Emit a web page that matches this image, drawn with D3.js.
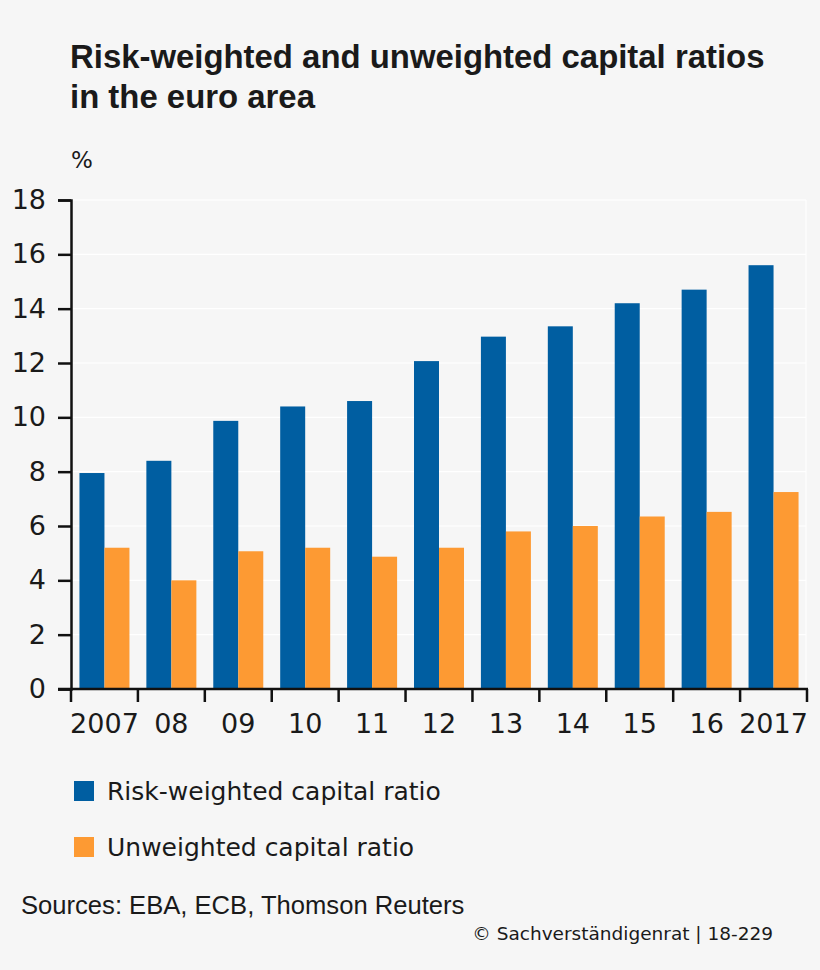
<!DOCTYPE html>
<html>
<head>
<meta charset="utf-8">
<script src="https://cdn.jsdelivr.net/npm/d3@7"></script>
<style>
body { margin: 0; background: #f6f6f6; }
text { font-family: "Liberation Sans", sans-serif; fill: #1a1a1a; }
.tick text { font-family: "DejaVu Sans", sans-serif; }
</style>
</head>
<body>
<svg id="chart" width="820" height="970"></svg>
<script>
var years = ["2007", "08", "09", "10", "11", "12", "13", "14", "15", "16", "2017"]
var riskWeighted = [7.95, 8.4, 9.87, 10.4, 10.6, 12.07, 12.97, 13.35, 14.2, 14.7, 15.6]
var unweighted = [5.2, 4.0, 5.07, 5.2, 4.87, 5.2, 5.8, 6.0, 6.35, 6.52, 7.25]
var yTicks = [0, 2, 4, 6, 8, 10, 12, 14, 16, 18]
var titleLines = ["Risk-weighted and unweighted capital ratios", "in the euro area"]

var blue = "#005ea1"
var orange = "#fd9a33"

var svg = d3.select("#chart")

var xScale = d3.scaleBand()
    .domain(years)
    .range([71, 807])

var yScale = d3.scaleLinear()
    .domain([0, 18])
    .range([689, 200])

var barWidth = 25
var pad = (xScale.bandwidth() - 2 * barWidth) / 2

svg.selectAll(".grid")
    .data(yTicks.slice(1))
    .enter()
    .append("line")
    .attr("class", "grid")
    .attr("x1", 71)
    .attr("x2", 806)
    .attr("y1", function (d) { return yScale(d) })
    .attr("y2", function (d) { return yScale(d) })
    .attr("stroke", "#ffffff")
    .attr("stroke-width", 1.2)

svg.append("line")
    .attr("x1", 806)
    .attr("x2", 806)
    .attr("y1", 200)
    .attr("y2", 689)
    .attr("stroke", "#ffffff")
    .attr("stroke-width", 1.2)

var drawBars = function (values, color, offset) {
    svg.selectAll(".bar" + offset)
        .data(values)
        .enter()
        .append("rect")
        .attr("class", "bar" + offset)
        .attr("x", function (d, i) { return xScale(years[i]) + pad + offset })
        .attr("y", function (d) { return yScale(d) })
        .attr("width", barWidth)
        .attr("height", function (d) { return yScale(0) - yScale(d) })
        .attr("fill", color)
}

drawBars(riskWeighted, blue, 0)
drawBars(unweighted, orange, barWidth)

var yAxis = d3.axisLeft(yScale)
    .tickValues(yTicks)
    .tickSize(13)
    .tickPadding(12)

var yGroup = svg.append("g")
    .attr("transform", "translate(71,0)")
    .call(yAxis)
yGroup.select(".domain").attr("stroke", "#111").attr("stroke-width", 2.5)
yGroup.selectAll(".tick line").attr("stroke", "#111").attr("stroke-width", 2.5)
yGroup.selectAll(".tick text")
    .style("font-size", "27px")
    .attr("fill", "#1a1a1a")

// x axis ticks sit between the bands, labels in the middle of each band
var xGroup = svg.append("g").attr("transform", "translate(0,689)")

xGroup.append("line")
    .attr("x1", 58)
    .attr("x2", 808)
    .attr("stroke", "#111")
    .attr("stroke-width", 2.5)

var xEdges = years.map(function (y) { return xScale(y) }).concat([xScale.range()[1]])

xGroup.selectAll(".xtick")
    .data(xEdges)
    .enter()
    .append("line")
    .attr("class", "xtick")
    .attr("x1", function (d) { return d })
    .attr("x2", function (d) { return d })
    .attr("y1", 0)
    .attr("y2", 13)
    .attr("stroke", "#111")
    .attr("stroke-width", 2.5)

xGroup.selectAll(".xlabel")
    .data(years)
    .enter()
    .append("text")
    .attr("class", "xlabel")
    .attr("x", function (d) { return xScale(d) + xScale.bandwidth() / 2 })
    .attr("y", 44)
    .attr("text-anchor", "middle")
    .style("font-family", "'DejaVu Sans', sans-serif")
    .attr("font-size", 27)
    .text(function (d) { return d })

svg.selectAll(".title")
    .data(titleLines)
    .enter()
    .append("text")
    .attr("class", "title")
    .attr("x", 70)
    .attr("y", function (d, i) { return 68 + i * 40 })
    .attr("font-size", 32.9)
    .attr("font-weight", "bold")
    .text(function (d) { return d })

svg.append("text")
    .attr("x", 71)
    .attr("y", 168)
    .style("font-family", "'DejaVu Sans', sans-serif")
    .attr("font-size", 23)
    .text("%")

var legendNames = ["Risk-weighted capital ratio", "Unweighted capital ratio"]
var legendColors = [blue, orange]
var legendY = d3.scalePoint().domain(legendNames).range([791, 847])

legendNames.forEach(function (name, i) {
    svg.append("rect")
        .attr("x", 74)
        .attr("y", legendY(name) - 10)
        .attr("width", 20)
        .attr("height", 20)
        .attr("fill", legendColors[i])
    svg.append("text")
        .attr("x", 107)
        .attr("y", legendY(name) + 9)
        .style("font-family", "'DejaVu Sans', sans-serif")
        .attr("font-size", 25)
        .text(name)
})

svg.append("text")
    .attr("x", 21)
    .attr("y", 914)
    .attr("font-size", 25.6)
    .text("Sources: EBA, ECB, Thomson Reuters")

svg.append("text")
    .attr("x", 773)
    .attr("y", 940)
    .attr("text-anchor", "end")
    .style("font-family", "'DejaVu Sans', sans-serif")
    .attr("font-size", 18.5)
    .text("© Sachverständigenrat | 18-229")
</script>
</body>
</html>
